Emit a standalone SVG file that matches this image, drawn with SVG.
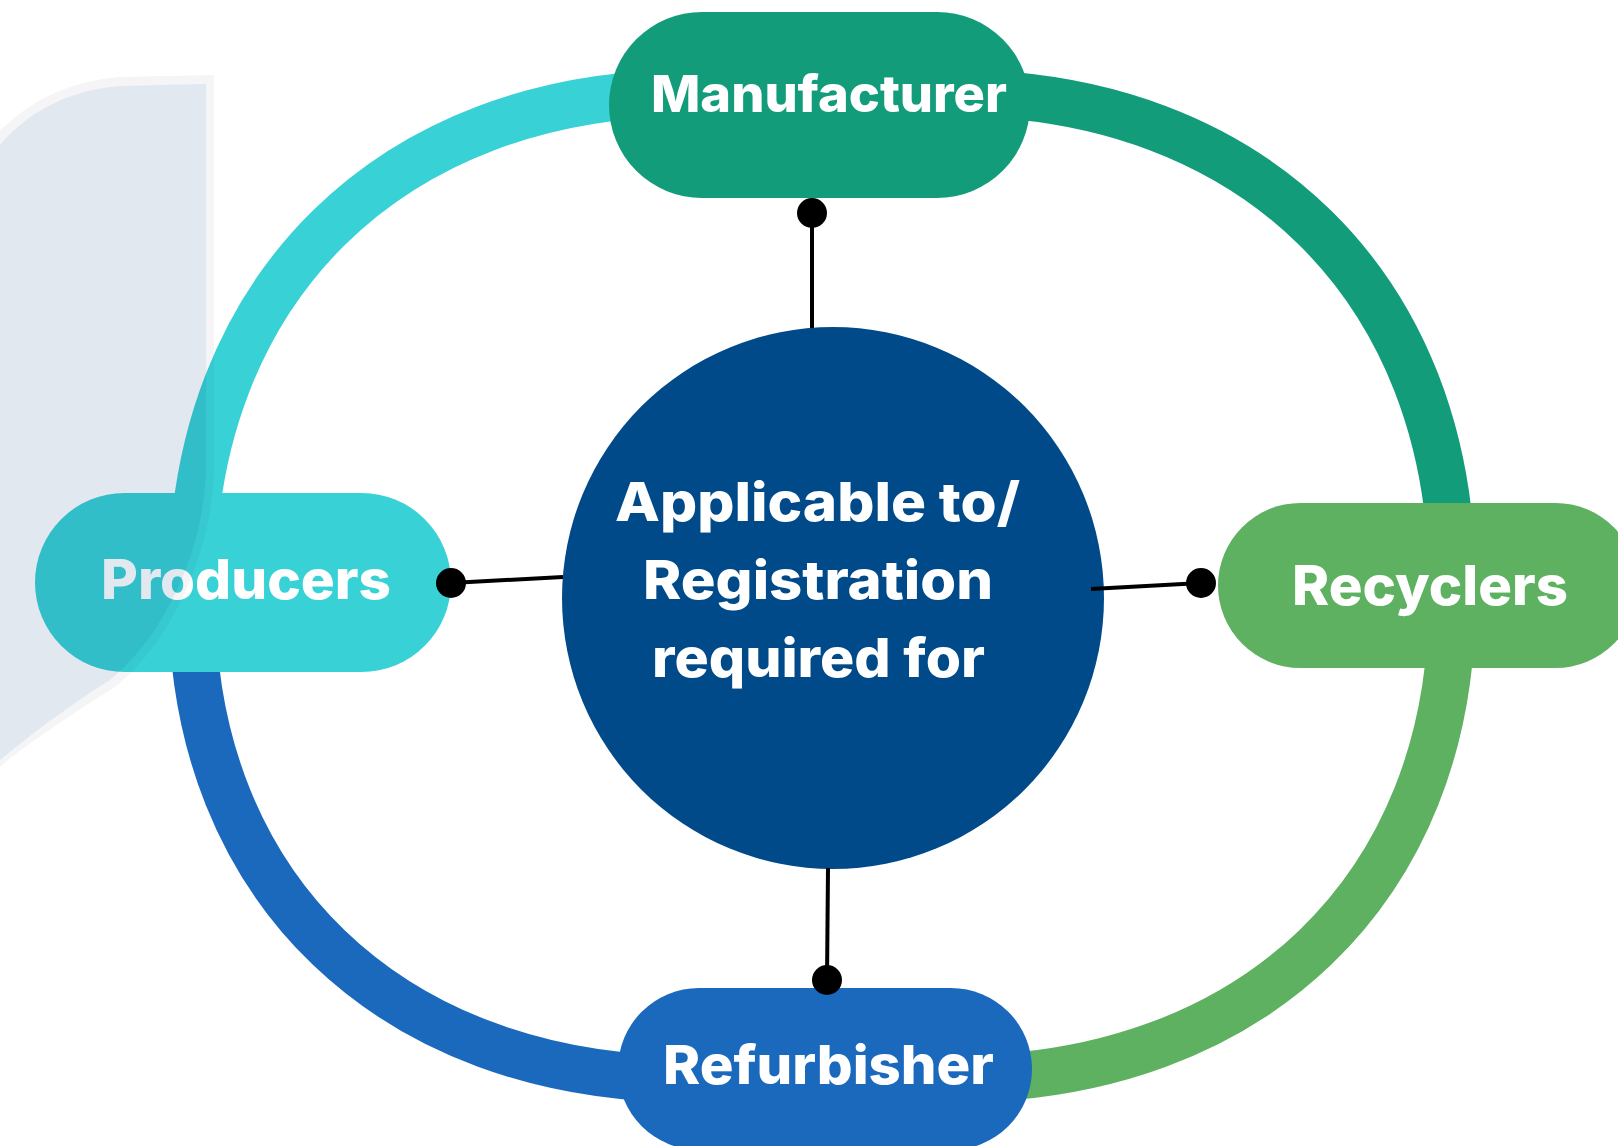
<svg xmlns="http://www.w3.org/2000/svg" width="1618" height="1146" viewBox="0 0 1618 1146">
  <style>
    .ring { fill: none; stroke-width: 47; stroke-linecap: butt; }
    .lbl { font-family: Inter, "Noto Sans", "Liberation Sans", sans-serif; font-weight: 800; fill: #ffffff; }
    .conn line { stroke: #000000; stroke-width: 4; }
    .conn circle { fill: #000000; }
  </style>
  <rect width="1618" height="1146" fill="#ffffff"/>

  <g id="ring">
    <path class="ring" stroke="#38D1D6" d="M192,592 L192,583 C192,289 391,93 690,93 L821,93"/>
    <path class="ring" stroke="#139C7A" d="M821,93 L954,93 C1253,93 1452,289 1452,583 L1452,592"/>
    <path class="ring" stroke="#5EB160" d="M1452,592 L1452,601 C1452,888 1253,1079 954,1079 L821,1079"/>
    <path class="ring" stroke="#1B69BC" d="M821,1079 L690,1079 C391,1079 192,888 192,601 L192,592"/>
  </g>

  <g id="center">
    <circle cx="833" cy="598" r="271" fill="#004A8A"/>
    <text class="lbl" x="615" y="521" font-size="54" textLength="405" lengthAdjust="spacingAndGlyphs">Applicable to/</text>
    <text class="lbl" x="643" y="599" font-size="54" textLength="350" lengthAdjust="spacingAndGlyphs">Registration</text>
    <text class="lbl" x="652" y="677" font-size="54" textLength="333" lengthAdjust="spacingAndGlyphs">required for</text>
  </g>

  <g id="manufacturer">
    <rect x="609" y="12" width="421" height="186" rx="93" ry="93" fill="#139C7A"/>
    <text class="lbl" x="651" y="112" font-size="51" textLength="356" lengthAdjust="spacingAndGlyphs">Manufacturer</text>
  </g>

  <g id="producers">
    <rect x="35" y="493" width="416" height="179" rx="89.5" ry="89.5" fill="#38D1D6"/>
    <text class="lbl" x="101" y="599" font-size="55" textLength="290" lengthAdjust="spacingAndGlyphs">Producers</text>
  </g>

  <g id="recyclers">
    <rect x="1218" y="503" width="420" height="165" rx="82.5" ry="82.5" fill="#5EB160"/>
    <text class="lbl" x="1292" y="605" font-size="55" textLength="276" lengthAdjust="spacingAndGlyphs">Recyclers</text>
  </g>

  <g id="refurbisher">
    <rect x="618" y="988" width="414" height="162" rx="81" ry="81" fill="#1B69BC"/>
    <text class="lbl" x="663" y="1084" font-size="54" textLength="331" lengthAdjust="spacingAndGlyphs">Refurbisher</text>
  </g>

  <g id="connectors" class="conn">
    <line x1="812" y1="213" x2="812" y2="328"/>
    <circle cx="812" cy="213" r="15"/>
    <line x1="451" y1="583" x2="563" y2="577"/>
    <circle cx="451" cy="583" r="15"/>
    <line x1="1091" y1="589" x2="1201" y2="583"/>
    <circle cx="1201" cy="583" r="15"/>
    <line x1="828" y1="868" x2="827" y2="980"/>
    <circle cx="827" cy="980" r="15"/>
  </g>

  <g id="backdrop" style="mix-blend-mode:multiply">
    <path d="M0,138 C30,106 70,86 120,82 L209,80 L209,470 C207,552 167,638 112,683 C72,708 30,736 0,760 Z" fill="none" stroke="#F5F5F7" stroke-width="10"/>
    <path d="M0,145 C30,110 70,90 120,86 L206,84 L206,470 C204,550 165,635 110,680 C70,705 30,735 0,760 Z" fill="#E2E8F0"/>
  </g>
</svg>
